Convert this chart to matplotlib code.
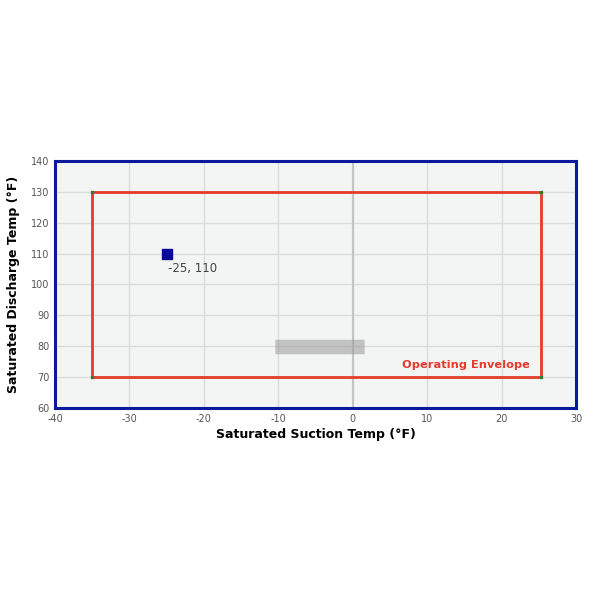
import matplotlib.pyplot as plt
from matplotlib.patches import FancyBboxPatch

plt.rcParams["axes.unicode_minus"] = False

# operating envelope (suction, discharge)
env_x = [-35, 25.3, 25.3, -35, -35]
env_y = [130, 130, 70, 70, 130]
corner_x = [-35, 25.3, 25.3, -35]
corner_y = [130, 130, 70, 70]

point_x = [-25]
point_y = [110]
point_label = "-25, 110"

x_ticks = [-40, -30, -20, -10, 0, 10, 20, 30]
y_ticks = [60, 70, 80, 90, 100, 110, 120, 130, 140]

fig = plt.figure(figsize=(6, 6), dpi=100)
ax = fig.add_axes([0.0917, 0.32, 0.8683, 0.4117])
ax.set_facecolor("#f3f4f4")

ax.set_xlim(-40, 30)
ax.set_ylim(60, 140)
ax.set_xticks(x_ticks)
ax.set_yticks(y_ticks)
ax.grid(True, color="#dcdcdc", linewidth=1)
ax.axvline(0, color="#c4c4c4", linewidth=1.5, zorder=1)
ax.set_axisbelow(True)

for s in ax.spines.values():
    s.set_color("#0b1a9c")
    s.set_linewidth(2.2)
ax.tick_params(length=0, labelsize=7, labelcolor="#555555", pad=4)

ax.plot(env_x, env_y, color="#e53a2c", linewidth=2, zorder=3)
ax.scatter(corner_x, corner_y, marker="s", s=4, color="#2e7d32", zorder=4)
ax.text(15.2, 74, "Operating Envelope", color="#e53a2c", fontsize=8.2,
        fontweight="bold", ha="center", va="center")

ax.scatter(point_x, point_y, marker="s", s=55, color="#0a0a9a", zorder=5)
ax.annotate(point_label, (point_x[0], point_y[0]), xytext=(1, -10.5),
            textcoords="offset points", fontsize=8.5, color="#444444",
            ha="left", va="center")

# faint toolbar overlay
ax.add_patch(FancyBboxPatch((-10.3, 77.5), 11.8, 4.5, boxstyle="round,pad=0.1",
                            facecolor="#9a9a9a", alpha=0.55, edgecolor="none",
                            zorder=6))

ax.set_xlabel("Saturated Suction Temp (°F)", fontsize=9, fontweight="bold",
              labelpad=3)
ax.set_ylabel("Saturated Discharge Temp (°F)", fontsize=9, fontweight="bold",
              labelpad=8)

fig.savefig("out.png", dpi=100)
